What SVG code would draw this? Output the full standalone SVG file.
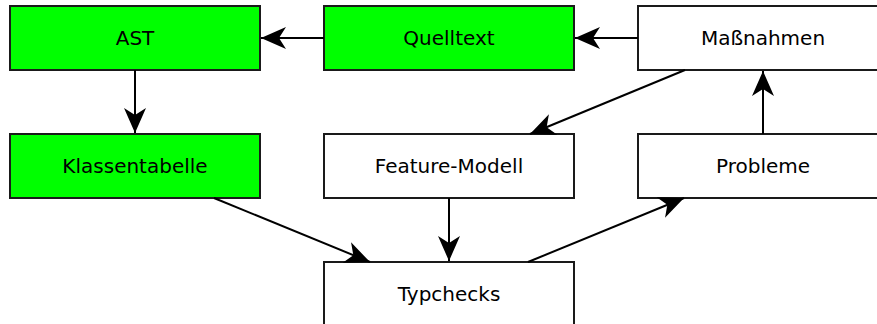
<svg xmlns="http://www.w3.org/2000/svg" width="877" height="324" viewBox="0 0 877 324">
  <style>
    .box { stroke: #1a1a1a; stroke-width: 2; }
    .src { fill: #00ff00; }
    .plain { fill: #ffffff; }
    .label { font-family: "DejaVu Sans", Verdana, sans-serif; font-size: 20px; fill: #000; text-anchor: middle; dominant-baseline: central; }
    .edge { stroke: #000; stroke-width: 2; fill: none; marker-end: url(#arrow); }
  </style>
  <defs>
    <marker id="arrow" markerUnits="userSpaceOnUse" markerWidth="26" markerHeight="23" refX="25" refY="11" orient="auto" viewBox="0 0 26 23" overflow="visible">
      <path d="M0,0 L25,11 L0,22 L7,11 z" fill="#000"/>
    </marker>
  </defs>
  <rect width="877" height="324" fill="#fff"/>

  <g id="ast">
    <rect class="box src" x="10" y="6" width="250" height="64"/>
    <text class="label" x="135" y="38">AST</text>
  </g>
  <g id="quelltext">
    <rect class="box src" x="324" y="6" width="250" height="64"/>
    <text class="label" x="449" y="38">Quelltext</text>
  </g>
  <g id="massnahmen">
    <rect class="box plain" x="638" y="6" width="250" height="64"/>
    <text class="label" x="763" y="38">Maßnahmen</text>
  </g>
  <g id="klassentabelle">
    <rect class="box src" x="10" y="134" width="250" height="64"/>
    <text class="label" x="135" y="166">Klassentabelle</text>
  </g>
  <g id="feature-modell">
    <rect class="box plain" x="324" y="134" width="250" height="64"/>
    <text class="label" x="449" y="166">Feature-Modell</text>
  </g>
  <g id="probleme">
    <rect class="box plain" x="638" y="134" width="250" height="64"/>
    <text class="label" x="763" y="166">Probleme</text>
  </g>
  <g id="typchecks">
    <rect class="box plain" x="324" y="262" width="250" height="64"/>
    <text class="label" x="449" y="294">Typchecks</text>
  </g>

  <g id="connectors">
    <line class="edge" x1="324" y1="38" x2="261" y2="38"/>
    <line class="edge" x1="638" y1="38" x2="575" y2="38"/>
    <line class="edge" x1="135" y1="70" x2="135" y2="133"/>
    <line class="edge" x1="685" y1="70" x2="530" y2="134"/>
    <line class="edge" x1="214" y1="198" x2="370" y2="262"/>
    <line class="edge" x1="449" y1="198" x2="449" y2="261"/>
    <line class="edge" x1="528" y1="262" x2="684" y2="198"/>
    <line class="edge" x1="763" y1="134" x2="763" y2="71"/>
  </g>
</svg>
